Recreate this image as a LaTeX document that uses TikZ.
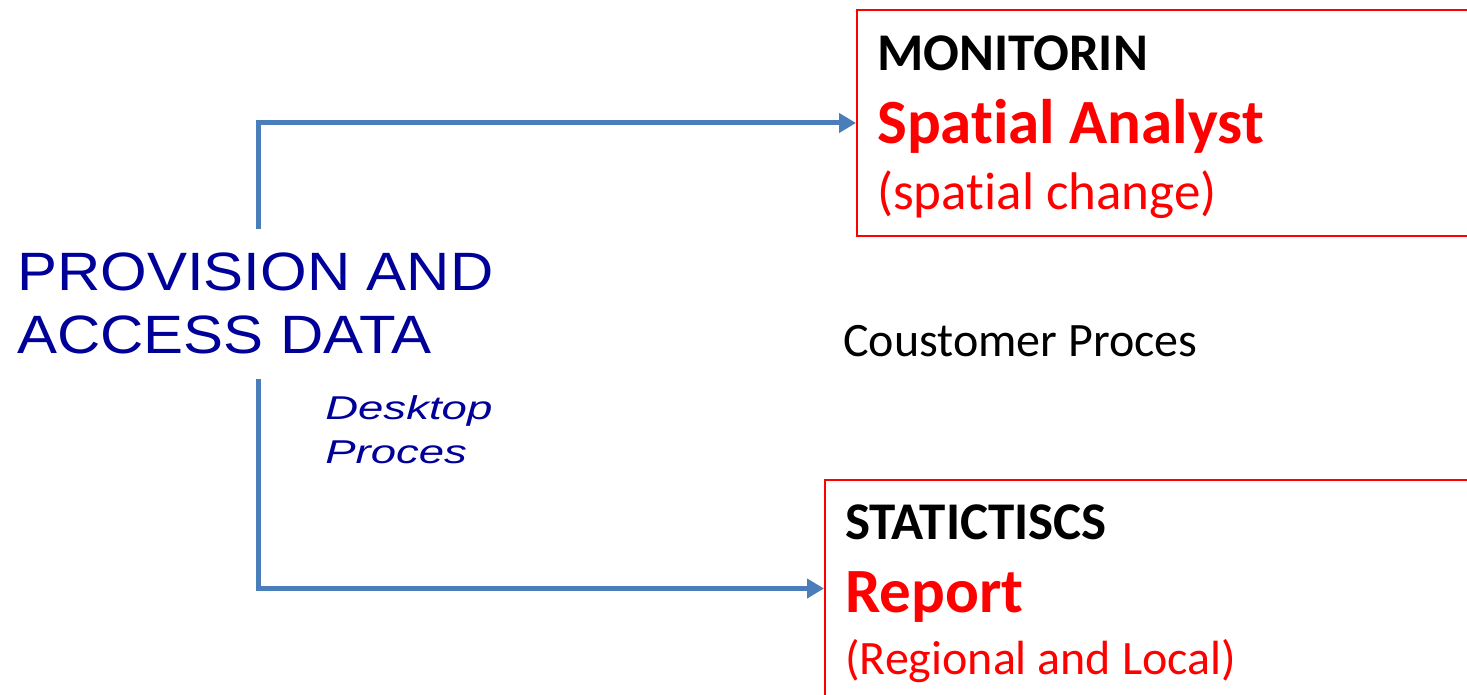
\documentclass[tikz,border=0pt]{standalone}
\usepackage{fontspec}
\newfontfamily\carlito[Ligatures=NoCommon]{Carlito}
\newfontfamily\arialfont{Liberation Sans}
\usetikzlibrary{arrows.meta,positioning}
\definecolor{provblue}{RGB}{0,0,153}
\definecolor{arrowblue}{RGB}{74,126,187}
\definecolor{boxred}{RGB}{255,0,0}

\begin{document}
\begin{tikzpicture}[x=1pt,y=-1pt,
		flow/.style={draw=arrowblue, line width=5pt, -{Triangle[length=17pt,width=19pt]}},
		redbox/.style={draw=boxred, line width=2pt, minimum width=660pt, anchor=north west, inner sep=0pt},
		txt/.style={anchor=base west, inner sep=0pt}]
		\useasboundingbox (0,0) rectangle (1467,695);
		% boxes on the right
		\node [redbox, minimum height=226pt] (monbox) at (856,9) {};
		\node [redbox, minimum height=217pt] (statbox) at (824,479) {};
		% left title
		\node [txt, text=provblue, xscale=1.11, font=\arialfont\fontsize{54}{60}\selectfont] (provision) at (17,290) {PROVISION AND};
		\node [txt, text=provblue, xscale=1.11, font=\arialfont\fontsize{54}{60}\selectfont] (access) at (17,353) {ACCESS DATA};
		\node [txt, text=provblue, xscale=1.38, font=\arialfont\itshape\fontsize{33}{36}\selectfont] (desktop) at (325,419) {Desktop};
		\node [txt, text=provblue, xscale=1.38, font=\arialfont\itshape\fontsize{33}{36}\selectfont] (proces) at (325,463) {Proces};
		% box texts
		\node [txt, font=\carlito\bfseries\fontsize{53}{60}\selectfont] (monitor) at (877,71) {MONITORIN};
		\node [txt, text=boxred, font=\carlito\bfseries\fontsize{63}{70}\selectfont] (spatial) at (877,144) {Spatial Analyst};
		\node [txt, text=boxred, font=\carlito\fontsize{53}{60}\selectfont] (change) at (877,210) {(spatial change)};
		\node [txt, font=\carlito\fontsize{48}{54}\selectfont] (customer) at (843,356) {Coustomer Proces};
		\node [txt, font=\carlito\bfseries\fontsize{53}{60}\selectfont] (statistic) at (845,539) {STATICTISCS};
		\node [txt, text=boxred, font=\carlito\bfseries\fontsize{63}{70}\selectfont] (report) at (845,612) {Report};
		\node [txt, text=boxred, font=\carlito\fontsize{48}{54}\selectfont] (regional) at (845,674) {(Regional and Local)};
		% connectors
		\coordinate (upstart) at (258,229);
		\coordinate (downstart) at (258,379);
		\draw [flow] (upstart) |- (monbox.west);
		\draw [flow] (downstart) |- (statbox.west);
\end{tikzpicture}
\end{document}
